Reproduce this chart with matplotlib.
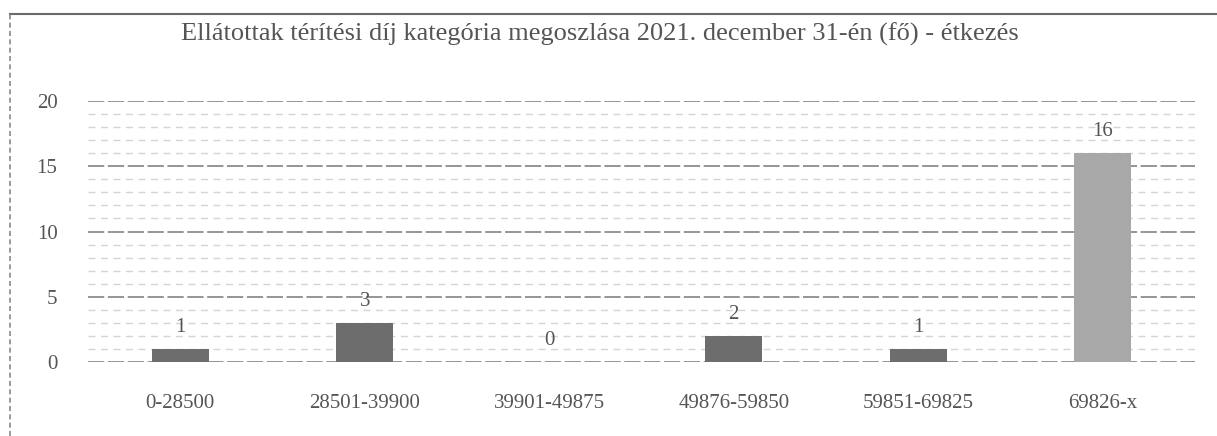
import matplotlib.pyplot as plt
from matplotlib.lines import Line2D

plt.rcParams["font.family"] = ["Liberation Serif", "DejaVu Serif"]

title = "Ellátottak térítési díj kategória megoszlása 2021. december 31-én (fő) - étkezés"
categories = ["0-28500", "28501-39900", "39901-49875", "49876-59850", "59851-69825", "69826-x"]
counts = [1, 3, 0, 2, 1, 16]
bar_colors = ["#6d6d6d", "#6d6d6d", "#6d6d6d", "#6d6d6d", "#6d6d6d", "#a8a8a8"]

TEXT = "#555555"

fig = plt.figure(figsize=(12.17, 4.36), dpi=100, facecolor="white")
ax = fig.add_axes([0.0723, 0.1697, 0.9096, 0.5986])

x = range(len(categories))
bars = ax.bar(x, counts, width=0.31, color=bar_colors, zorder=3)

# value labels above each bar
for rect, v in zip(bars, counts):
    ax.annotate(str(v), (rect.get_x() + rect.get_width() / 2, v),
                xytext=(0, 8.5), textcoords="offset points",
                ha="center", va="bottom", fontsize=15, color=TEXT)

ax.set_xlim(-0.5, len(categories) - 0.5)
ax.set_ylim(0, 20)
ax.set_yticks([0, 5, 10, 15, 20])
ax.set_xticks(list(x))
ax.set_xticklabels(categories)
ax.tick_params(axis="both", length=0, labelcolor=TEXT, labelsize=15)
ax.tick_params(axis="y", pad=22)
ax.tick_params(axis="x", pad=23)

# unit gridlines (light) and major gridlines every 5 (darker)
for yv in range(0, 21):
    major = yv % 5 == 0
    ax.axhline(yv, color="#8c8c8c" if major else "#d4d4d4",
               lw=1.3 if major else 1.0, ls=(0, (9, 2)) if major else (0, (5, 4)),
               zorder=1)

for s in ax.spines.values():
    s.set_visible(False)

fig.text(0.493, 0.922, title, ha="center", va="center", fontsize=19, color=TEXT)

# chart frame (top and left edges)
fig.add_artist(Line2D([0.008, 1.0], [0.968, 0.968], transform=fig.transFigure,
                      color="#6a6a6a", lw=1.5))
fig.add_artist(Line2D([0.008, 0.008], [0.0, 0.968], transform=fig.transFigure,
                      color="#8a8a8a", lw=1.2, ls=(0, (3, 2))))

fig.savefig("out.png", dpi=100, facecolor="white")
